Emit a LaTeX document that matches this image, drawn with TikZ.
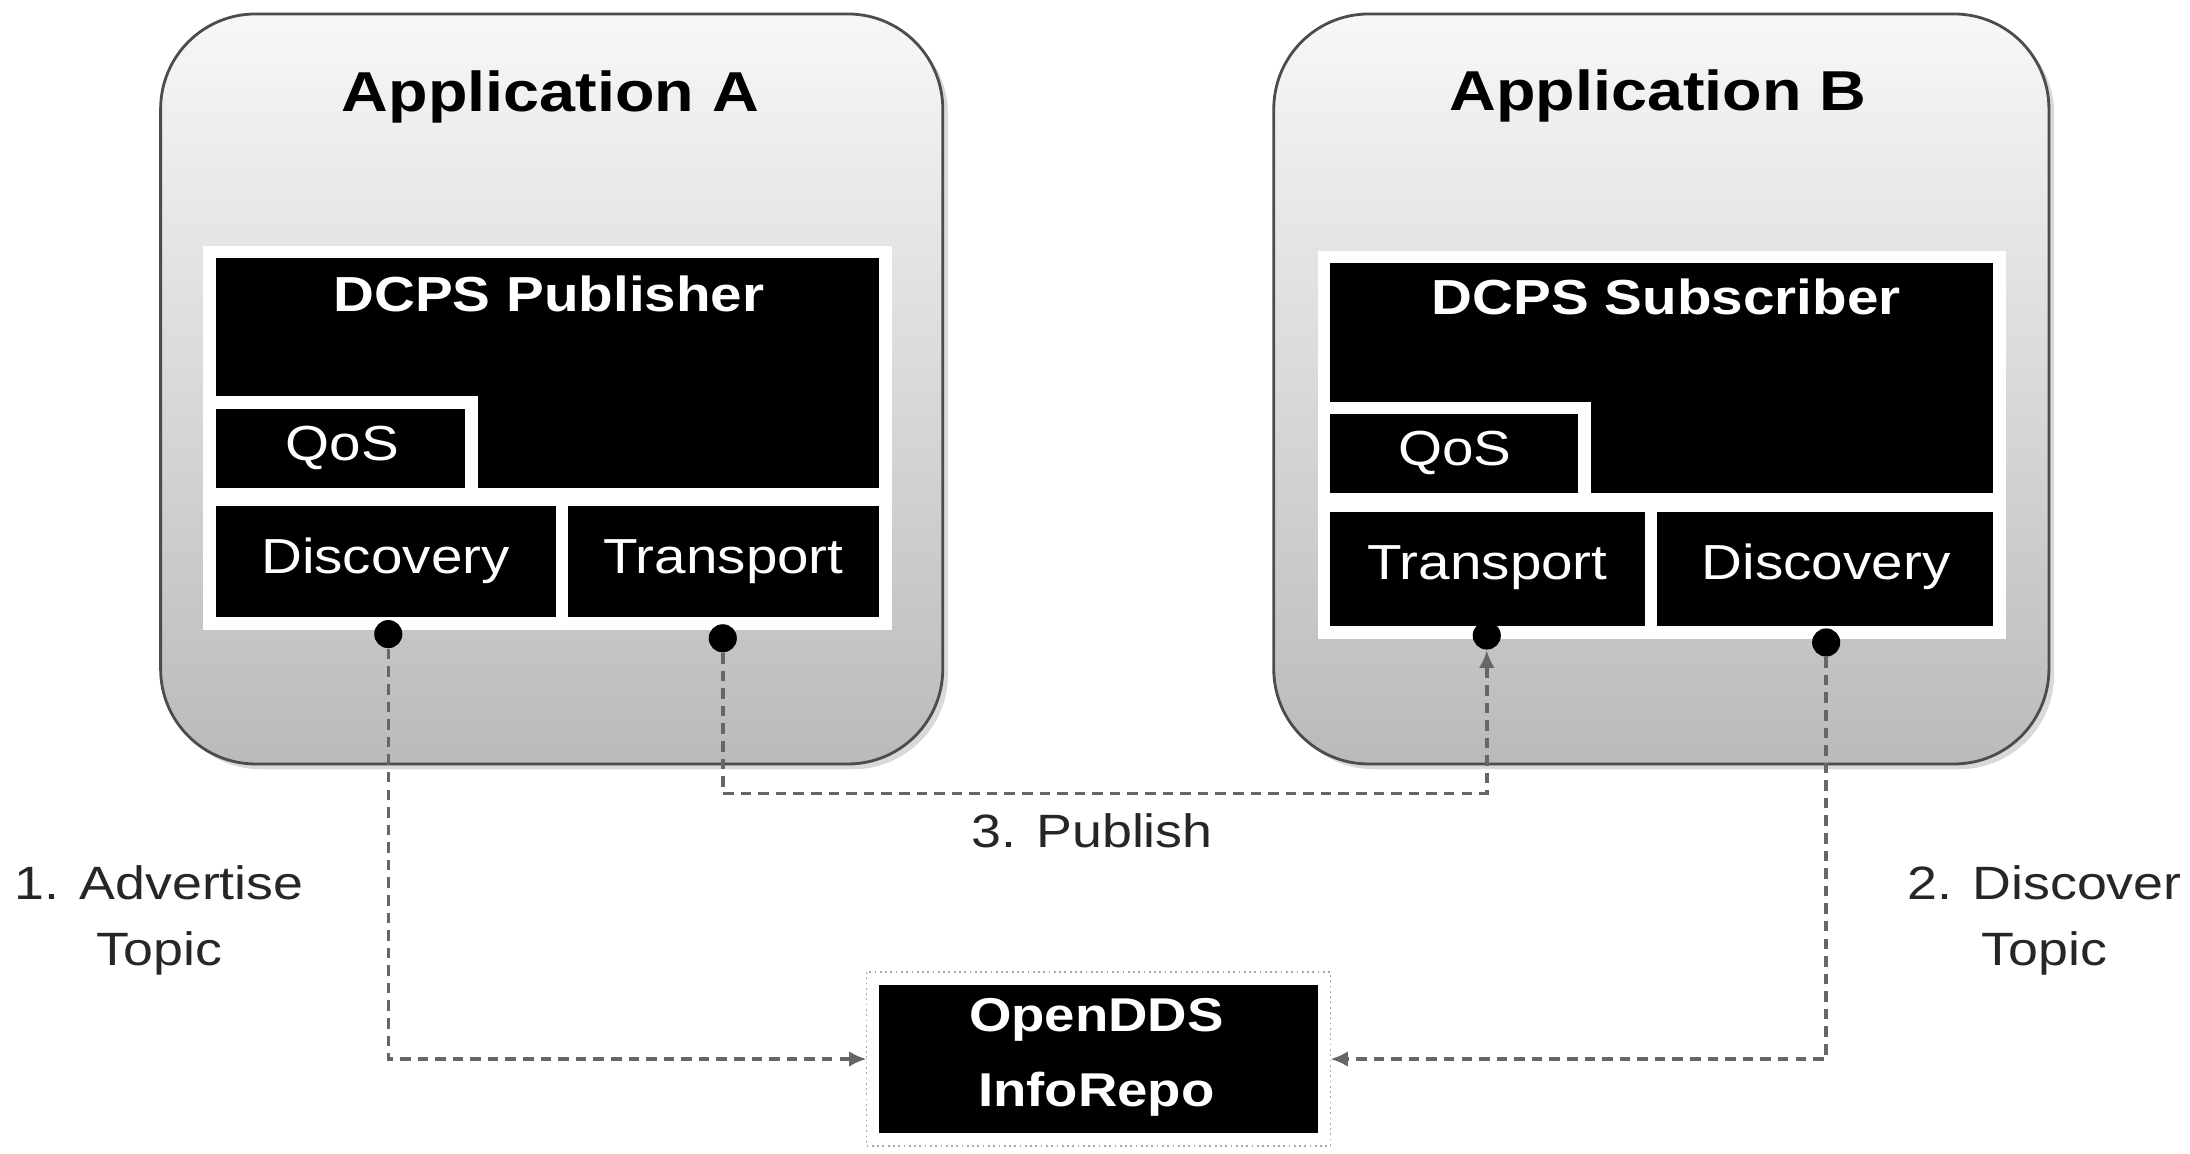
\documentclass[tikz,border=0pt]{standalone}
\usepackage{fontspec}
\setmainfont{Liberation Sans}[FakeStretch=1.15]
\usetikzlibrary{fit,arrows.meta,shadows}

\begin{document}
\begin{tikzpicture}[x=0.013967cm,y=-0.013967cm]
\tikzstyle{appbox}=[draw=black!70,line width=0.8pt,rounded corners=27pt,top color=black!3,bottom color=black!27,inner sep=0pt,drop shadow={shadow xshift=1.5pt,shadow yshift=-1.5pt,opacity=0.3}]
\tikzstyle{apptitle}=[font=\fontsize{16}{19}\selectfont\bfseries]
\tikzstyle{blackbox}=[fill=black,draw=white,line width=3.6pt,inner sep=0pt]
\tikzstyle{boxtitle}=[text=white,font=\fontsize{14}{17}\selectfont\bfseries]
\tikzstyle{parttext}=[text=white,font=\fontsize{14}{17}\selectfont]
\tikzstyle{repotext}=[text=white,font=\fontsize{13.5}{21.5}\selectfont\bfseries,align=center]
\tikzstyle{repoframe}=[draw=black!35,densely dotted,line width=0.5pt]
\tikzstyle{dot}=[circle,fill=black,minimum size=8pt,inner sep=0pt]
\tikzstyle{flow}=[-{Latex[length=5pt,width=4.5pt]},black!60,line width=1pt,dash pattern=on 3pt off 2pt]
\tikzstyle{msg}=[text=black!85,font=\fontsize{13.3}{19}\selectfont]
\useasboundingbox (0,0) rectangle (1568,826);

% application A
\node[appbox,fit={(115,10) (675,547)}] (appA) {};
\node[apptitle,anchor=base] (appAtitle) at (394,80) {Application A};
\node[blackbox,fit={(150,180.5) (634,354)}] (pub) {};
\node[boxtitle,anchor=base] (pubtitle) at (393,223) {DCPS Publisher};
\node[blackbox,fit={(150,288) (337.5,354)}] (qosA) {};
\node[parttext,anchor=base] (qosAtext) at (245,329.5) {QoS};
\node[blackbox,fit={(150,358) (402.4,446.5)}] (discA) {};
\node[parttext,anchor=base] (discAtext) at (276,410.5) {Discovery};
\node[blackbox,fit={(402.4,358) (634,446.5)}] (transA) {};
\node[parttext,anchor=base] (transAtext) at (518,410.5) {Transport};

% application B
\node[appbox,fit={(912,10) (1467,547)}] (appB) {};
\node[apptitle,anchor=base] (appBtitle) at (1187,79) {Application B};
\node[blackbox,fit={(948,184) (1431.5,357.5)}] (sub) {};
\node[boxtitle,anchor=base] (subtitle) at (1193,225) {DCPS Subscriber};
\node[blackbox,fit={(948,292) (1134.5,357.5)}] (qosB) {};
\node[parttext,anchor=base] (qosBtext) at (1041.5,333) {QoS};
\node[blackbox,fit={(948,362) (1182,453)}] (transB) {};
\node[parttext,anchor=base] (transBtext) at (1065,415) {Transport};
\node[blackbox,fit={(1182,362) (1431.5,453)}] (discB) {};
\node[parttext,anchor=base] (discBtext) at (1307.5,415) {Discovery};

% info repository
\node[blackbox,fit={(625,700.5) (948,816)}] (repo) {};
\draw[repoframe] (repo.north west) rectangle (repo.south east);
\node[repotext] (repotext) at (785,757) {OpenDDS\\InfoRepo};

% end points
\node[dot] (discAdot) at (278,454) {};
\node[dot] (transAdot) at (517.5,457) {};
\node[dot] (transBdot) at (1064.5,455) {};
\node[dot] (discBdot) at (1307.5,460) {};
\coordinate (bend) at (790,568);

\draw[flow] (discAdot.south) |- (repo.west);
\draw[flow] (discBdot.south) |- (repo.east);
\draw[flow] (transAdot.south) |- (bend) -| (transBdot.south);

\node[msg,anchor=base] (publish) at (782,607) {3. Publish};
\node[msg,align=center] (advertise) at (114,659) {1. Advertise\\Topic};
\node[msg,align=center] (discover) at (1464,659) {2. Discover\\Topic};
\end{tikzpicture}
\end{document}
